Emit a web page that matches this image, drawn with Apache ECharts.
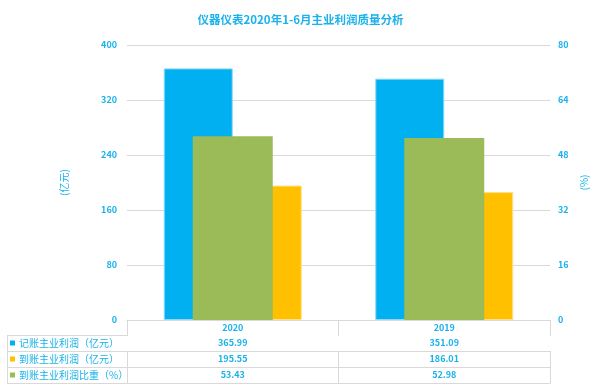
<!DOCTYPE html>
<html>
<head>
<meta charset="utf-8">
<script src="https://cdn.jsdelivr.net/npm/echarts@6/dist/echarts.min.js"></script>
<style>html,body{margin:0;padding:0;background:#fff}#c{width:601px;height:392px}</style>
</head>
<body>
<div id="c"></div>
<script>
const categories = ['2020', '2019'];
const bookProfit = [365.99, 351.09];
const cashProfit = [195.55, 186.01];
const cashRatio = [53.43, 52.98];
const seriesNames = ['记账主业利润（亿元）', '到账主业利润（亿元）', '到账主业利润比重（%）'];
const leftAxis = { min: 0, max: 400, interval: 80 };
const rightAxis = { min: 0, max: 80, interval: 16 };

const BLUE = '#00B0F0', ORANGE = '#FFC000', GREEN = '#9BBB59';
const TXT = '#19B2EC', LINE = '#D9D9D9';
const FONT = '"Noto Sans CJK SC", "Noto Sans", sans-serif';

function rowAxis(offset, tickLen, formatter, showLabel) {
  return {
    type: 'category', data: categories, position: 'bottom', offset: offset,
    axisLine: { show: true, lineStyle: { color: LINE, width: 1 } },
    axisTick: { show: tickLen > 0, length: tickLen, interval: 0, lineStyle: { color: LINE, width: 1 } },
    axisLabel: { show: showLabel, interval: 0, margin: 3, fontSize: 9, fontWeight: 'bold', color: TXT, fontFamily: FONT, formatter: formatter },
    splitLine: { show: false }
  };
}

const chart = echarts.init(document.getElementById('c'), null, { renderer: 'canvas' });
chart.setOption({
  animation: false,
  backgroundColor: '#fff',
  textStyle: { fontFamily: FONT },
  title: {
    text: '仪器仪表2020年1-6月主业利润质量分析', left: 'center', top: 9,
    textStyle: { fontSize: 11.5, fontWeight: 'bold', color: TXT, fontFamily: FONT }
  },
  legend: {
    orient: 'vertical', left: 10, top: 335, padding: 0, itemGap: 0,
    itemWidth: 5, itemHeight: 5, icon: 'rect', selectedMode: false,
    data: seriesNames,
    itemStyle: { borderWidth: 0 },
    textStyle: { fontSize: 10, lineHeight: 16, color: TXT, fontFamily: FONT, padding: [0, 0, 0, -1] }
  },
  grid: { left: 127, right: 51, top: 45, bottom: 72, containLabel: false },
  xAxis: [
    rowAxis(0, 15, (v) => v, true),
    rowAxis(15, 16, (v, i) => bookProfit[i].toFixed(2), true),
    rowAxis(31, 16, (v, i) => cashProfit[i].toFixed(2), true),
    rowAxis(47, 16, (v, i) => cashRatio[i].toFixed(2), true),
    rowAxis(63, 0, (v) => '', false),
    { type: 'category', data: categories, show: false }
  ],
  yAxis: [
    {
      type: 'value', position: 'left', min: leftAxis.min, max: leftAxis.max, interval: leftAxis.interval,
      name: '(亿元)', nameLocation: 'middle', nameGap: 58, nameRotate: 90,
      nameTextStyle: { color: TXT, fontSize: 10, fontFamily: FONT },
      axisLine: { show: false }, axisTick: { show: false },
      axisLabel: { color: TXT, fontSize: 9, fontWeight: 'bold', margin: 10, fontFamily: FONT },
      splitLine: { show: true, lineStyle: { color: LINE, width: 1 } }
    },
    {
      type: 'value', position: 'right', min: rightAxis.min, max: rightAxis.max, interval: rightAxis.interval,
      name: '(%)', nameLocation: 'middle', nameGap: 20, nameRotate: 90,
      nameTextStyle: { color: TXT, fontSize: 10, fontFamily: FONT },
      axisLine: { show: false }, axisTick: { show: false },
      axisLabel: { color: TXT, fontSize: 9, fontWeight: 'bold', margin: 8, fontFamily: FONT },
      splitLine: { show: false }
    }
  ],
  series: [
    {
      name: seriesNames[0], type: 'bar', xAxisIndex: 0, yAxisIndex: 0, data: bookProfit,
      barWidth: 69, barGap: '0%', z: 2,
      itemStyle: { color: BLUE, borderColor: '#8FD8F5', borderWidth: 1 }
    },
    {
      name: seriesNames[1], type: 'bar', xAxisIndex: 0, yAxisIndex: 0, data: cashProfit,
      barWidth: 69, barGap: '0%', z: 2,
      itemStyle: { color: ORANGE, borderColor: '#FFE08A', borderWidth: 1 }
    },
    {
      name: seriesNames[2], type: 'bar', xAxisIndex: 5, yAxisIndex: 1, data: cashRatio,
      barWidth: 80, z: 3,
      itemStyle: { color: GREEN }
    }
  ],
  graphic: [
    { type: 'line', silent: true, shape: { x1: 7.5, y1: 335, x2: 7.5, y2: 383.5 }, style: { stroke: LINE, lineWidth: 1 } },
    { type: 'line', silent: true, shape: { x1: 7, y1: 335.5, x2: 127, y2: 335.5 }, style: { stroke: LINE, lineWidth: 1 } },
    { type: 'line', silent: true, shape: { x1: 7, y1: 351.5, x2: 127, y2: 351.5 }, style: { stroke: LINE, lineWidth: 1 } },
    { type: 'line', silent: true, shape: { x1: 7, y1: 367.5, x2: 127, y2: 367.5 }, style: { stroke: LINE, lineWidth: 1 } },
    { type: 'line', silent: true, shape: { x1: 7, y1: 383.5, x2: 127, y2: 383.5 }, style: { stroke: LINE, lineWidth: 1 } }
  ]
});
</script>
</body>
</html>
